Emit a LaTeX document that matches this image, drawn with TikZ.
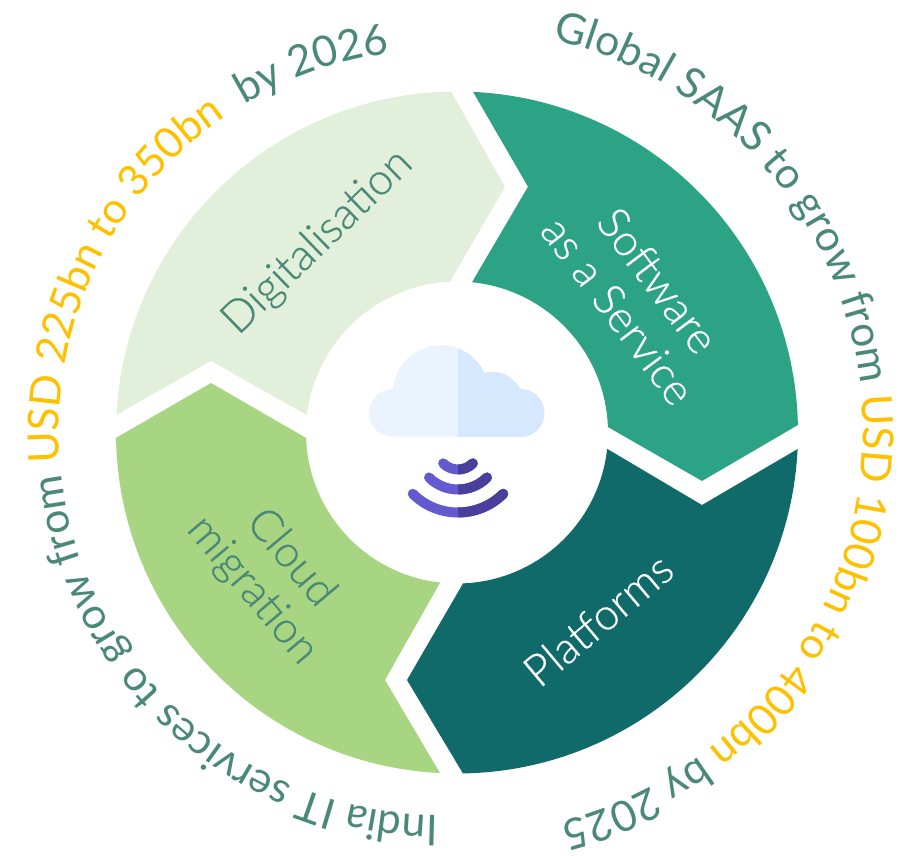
\documentclass[tikz,border=0pt]{standalone}
\usepackage{fontspec}
\setmainfont{Lato}
\newfontfamily\segfont[FakeBold=0.5]{Lato Light}
\usetikzlibrary{decorations.text}
\definecolor{digitfill}{HTML}{E2EFDA}
\definecolor{softfill}{HTML}{2CA385}
\definecolor{platfill}{HTML}{106A6A}
\definecolor{cloudfill}{HTML}{A8D582}
\definecolor{ringgreen}{HTML}{4A8878}
\definecolor{ringamber}{HTML}{FFC000}
\definecolor{cloudleft}{HTML}{EAF3FE}
\definecolor{cloudright}{HTML}{D6E8FE}
\definecolor{wifileft}{HTML}{6459CF}
\definecolor{wifiright}{HTML}{4A3F9C}
\newcommand{\ringg}{\fontsize{42.6}{50}\selectfont\color{ringgreen}}
\newcommand{\ringy}{\fontsize{42.6}{50}\selectfont\color{ringamber}}
\newcommand{\cloudshape}{(-64,-4.5) arc[start angle=270,end angle=90,radius=24]
	arc[start angle=175,end angle=25,radius=48]
	arc[start angle=105,end angle=30,radius=31]
	-- (63.5,43.5) arc[start angle=90,end angle=-90,radius=24] -- cycle}
\begin{document}
\begin{tikzpicture}[
	x=1pt,y=1pt,
	segtext/.style={
		font=\segfont\fontsize{44}{50}\selectfont,
		align=center,
		inner sep=0pt},
	ringtext/.style={
		decorate,
		decoration={text along path,text format delimiters={|}{|},text=#1}},
	wifiarc/.style={line width=10pt,line cap=round}
	]
	\useasboundingbox (-457,-423.5) rectangle (453,432.5);
	
	% the four arrows of the ring
	\fill[digitfill] (177.06:341) arc[start angle=177.06,end angle=91,radius=341]
		-- (48,245.8) -- (92.66:151) arc[start angle=92.66,end angle=173.4,radius=151]
		-- (-246,71.5) -- cycle;
	\fill[softfill] (87.3:341) arc[start angle=87.3,end angle=1.26,radius=341]
		-- (245,-48.5) -- (2.09:151) arc[start angle=2.09,end angle=84.3,radius=151]
		-- (71,245.8) -- cycle;
	\fill[platfill] (-2.78:341) arc[start angle=-2.78,end angle=-89,radius=341]
		-- (-50,-247.5) -- (-87.7:151) arc[start angle=-87.7,end angle=-6.2,radius=151]
		-- (245,-72.5) -- cycle;
	\fill[cloudfill] (267.14:341) arc[start angle=267.14,end angle=180.9,radius=341]
		-- (-246,49.5) -- (182.1:151) arc[start angle=182.1,end angle=263.6,radius=151]
		-- (-72,-247.5) -- cycle;
	
	\node[segtext,text=ringgreen,rotate=44] (digit) at (-139,190) {Digitalisation};
	\node[segtext,text=white,rotate=-53] (soft) at (181,137) {Software\\as a Service};
	\node[segtext,text=white,rotate=40] (plat) at (141,-187) {Platforms};
	\node[segtext,text=ringgreen,rotate=-50] (cloud) at (-186,-142) {Cloud\\migration};
	
	% cloud and signal in the middle
	\fill[cloudleft] \cloudshape;
	\begin{scope}
		\clip (1,-10) rectangle (100,100);
		\fill[cloudright] \cloudshape;
	\end{scope}
	\foreach \r in {21,41,64}
	\draw[wifiarc,wifileft] (225:\r) ++(1,-16) arc[start angle=225,end angle=315,radius=\r];
	\begin{scope}
		\clip (1,-100) rectangle (100,-20);
		\foreach \r in {21,41,64}
		\draw[wifiarc,wifiright] (225:\r) ++(1,-16) arc[start angle=225,end angle=315,radius=\r];
	\end{scope}
	
	% outer text, running clockwise
	\path[ringtext={|\ringg|Global SAAS to grow from |\ringy|USD 100bn to 400bn |\ringg|by 2025}]
		([shift={(76.7:403)}]3,1) arc[start angle=76.7,end angle=-110,radius=403];
	\path[ringtext={|\ringg|India IT services to grow from |\ringy|USD 225bn to 350bn |\ringg| by 2026}]
		([shift={(269.5:383)}]-15,0) arc[start angle=269.5,end angle=70,radius=383];
\end{tikzpicture}
\end{document}
